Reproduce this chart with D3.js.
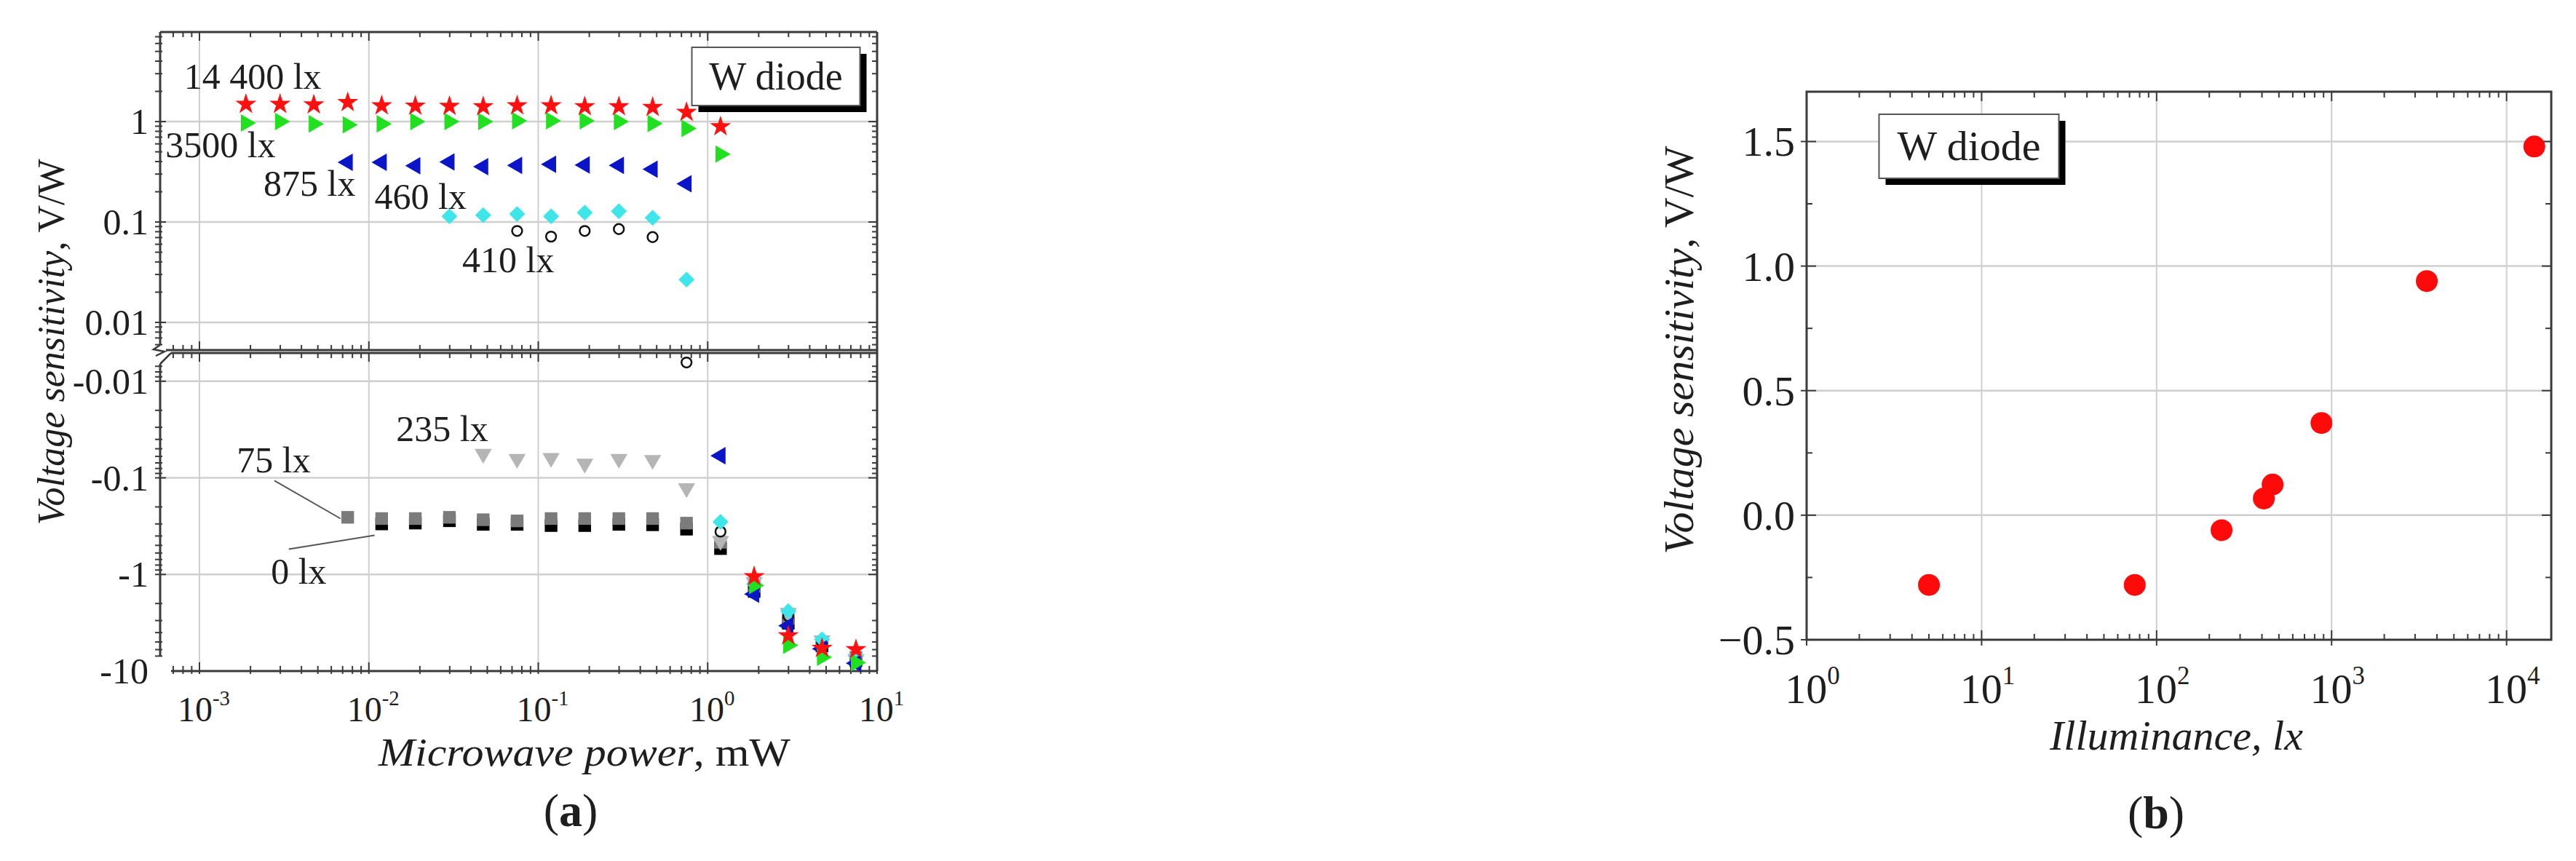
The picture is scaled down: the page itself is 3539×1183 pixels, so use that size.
<!DOCTYPE html>
<html>
<head>
<meta charset="utf-8">
<script src="https://cdn.jsdelivr.net/npm/d3@7"></script>
<style>
  body { margin: 0; background: #fff; }
  svg text { font-family: "Liberation Serif", "DejaVu Serif", serif; fill: #1e1e1e; }
</style>
</head>
<body>
<svg id="chart" width="3539" height="1183"></svg>
<script>
// ---- panel (a): voltage sensitivity (V/W) vs microwave power (mW) ----
const power = [0.00188, 0.00299, 0.00473, 0.0075, 0.0119, 0.0188, 0.0299, 0.0473, 0.075,
               0.119, 0.188, 0.299, 0.473, 0.75, 1.19, 1.88, 2.99, 4.73, 7.5];
const lux0     = [null, null, null, null, -0.30, -0.294, -0.278, -0.303, -0.303, -0.312, -0.312, -0.303, -0.306, -0.34, -0.54, -1.5, -3.2, -5.5, -7.8];
const lux75    = [null, null, null, -0.27, -0.278, -0.278, -0.27, -0.286, -0.294, -0.278, -0.278, -0.278, -0.278, -0.31, -0.49, -1.4, -3.0, -5.3, -7.6];
const lux235   = [null, null, null, null, null, null, null, -0.0565, -0.0636, -0.0623, -0.0713, -0.0636, -0.0653, -0.128, -0.45, -1.2, -2.5, -4.8, -7.5];
const lux410   = [null, null, null, null, null, null, null, null, 0.0814, 0.0715, 0.0814, 0.085, 0.0707, -0.0064, -0.36, -1.35, -2.7, -5.0, -7.2];
const lux460   = [null, null, null, null, null, null, 0.114, 0.117, 0.12, 0.114, 0.124, 0.128, 0.11, 0.0267, -0.286, -1.25, -2.4, -4.7, -7.0];
const lux875   = [null, null, null, 0.393, 0.393, 0.363, 0.397, 0.355, 0.366, 0.376, 0.37, 0.366, 0.336, 0.24, -0.059, -1.6, -3.4, -5.9, -8.3];
const lux3500  = [0.97, 1.0, 0.95, 0.93, 0.95, 1.0, 1.0, 1.0, 1.02, 1.02, 1.02, 1.0, 0.956, 0.856, 0.475, -1.3, -5.4, -7.2, -8.2];
const lux14400 = [1.49, 1.49, 1.47, 1.55, 1.44, 1.43, 1.42, 1.41, 1.44, 1.44, 1.41, 1.41, 1.39, 1.24, 0.89, -1.05, -4.3, -5.8, -6.0];
const seriesNames = ['0 lx', '75 lx', '235 lx', '410 lx', '460 lx', '875 lx', '3500 lx', '14 400 lx'];

const xTicksA = [1e-3, 1e-2, 1e-1, 1, 10];
const xExpA = ['-3', '-2', '-1', '0', '1'];
const yTicksUp = [0.01, 0.1, 1];
const yLabelsUp = ['0.01', '0.1', '1'];
const yTicksLow = [0.01, 0.1, 1, 10];
const yLabelsLow = ['-0.01', '-0.1', '-1', '-10'];

// ---- panel (b): voltage sensitivity vs illuminance ----
const illuminance = [5, 75, 235, 410, 460, 875, 3500, 14400];
const sensitivity = [-0.28, -0.28, -0.06, 0.067, 0.123, 0.37, 0.94, 1.48];
const xTicksB = [1, 10, 100, 1000, 10000];
const xExpB = ['0', '1', '2', '3', '4'];
const yTicksB = [-0.5, 0, 0.5, 1, 1.5];

const svg = d3.select('#chart');
const axisColor = '#3a3a3a';
const gridColor = '#cfcfcf';
const serif = '"Liberation Serif", "DejaVu Serif", serif';

// all 1..9 x 10^k values inside a domain, for log minor ticks
function logTicks(domain) {
  let out = [];
  let lo = Math.floor(Math.log10(domain[0])), hi = Math.ceil(Math.log10(domain[1]));
  for (let k = lo; k <= hi; k++) {
    for (let m = 1; m <= 9; m++) {
      let v = m * Math.pow(10, k);
      if (v >= domain[0] * 0.999 && v <= domain[1] * 1.001) out.push({v: v, major: m === 1});
    }
  }
  return out;
}

function line(g, x1, y1, x2, y2, color, w) {
  g.append('line').attr('x1', x1).attr('y1', y1).attr('x2', x2).attr('y2', y2)
    .attr('stroke', color).attr('stroke-width', w);
}

function txt(g, x, y, size) {
  return g.append('text').attr('x', x).attr('y', y).attr('font-family', serif).attr('font-size', size);
}

function powLabel(g, x, y, exp, size) {
  let t = txt(g, x, y, size).attr('text-anchor', 'middle');
  t.append('tspan').text('10');
  t.append('tspan').attr('dy', -size * 0.45).attr('font-size', size * 0.6).text(exp);
}

function labelBox(g, cx, cy, w, h, size) {
  g.append('rect').attr('x', cx - w / 2 + 9).attr('y', cy - h / 2 + 9).attr('width', w).attr('height', h)
    .attr('fill', '#000');
  g.append('rect').attr('x', cx - w / 2).attr('y', cy - h / 2).attr('width', w).attr('height', h)
    .attr('fill', '#fff').attr('stroke', '#555').attr('stroke-width', 2);
  txt(g, cx, cy + size * 0.33, size).attr('text-anchor', 'middle').text('W diode');
}

// ================= panel (a) =================
const gA = svg.append('g');
const xA = d3.scaleLog().domain([5.86e-4, 10]).range([220, 1205]);
const yUp = d3.scaleLog().domain([0.0053, 7.8]).range([481, 44]);
const yLow = d3.scaleLog().domain([0.0051, 10]).range([485, 922]); // magnitude of negative values

// grid
xTicksA.slice(0, 4).forEach(function (v) {
  line(gA, xA(v), 44, xA(v), 481, gridColor, 2);
  line(gA, xA(v), 485, xA(v), 922, gridColor, 2);
});
yTicksUp.forEach(function (v) { line(gA, 220, yUp(v), 1205, yUp(v), gridColor, 2.5); });
yTicksLow.slice(0, 3).forEach(function (v) { line(gA, 220, yLow(v), 1205, yLow(v), gridColor, 2.5); });

// x ticks on the four horizontal axis lines
logTicks(xA.domain()).forEach(function (t) {
  let x = xA(t.v), len = t.major ? 12 : 7;
  if (x < 236) return;
  line(gA, x, 44, x, 44 + len, axisColor, 2);
  line(gA, x, 481, x, 481 - len, axisColor, 2);
  line(gA, x, 485, x, 485 + len, axisColor, 2);
  line(gA, x, 922 - len, x, 922 + 4, axisColor, 2);
});
// y ticks, upper and lower
logTicks(yUp.domain()).forEach(function (t) {
  let y = yUp(t.v), len = t.major ? 12 : 7;
  if (y > 476) return;
  line(gA, 213, y, 220 + len - 4, y, axisColor, 2);
  line(gA, 1205 - len, y, 1205, y, axisColor, 2);
});
logTicks(yLow.domain()).forEach(function (t) {
  let y = yLow(t.v), len = t.major ? 12 : 7;
  if (y < 500 || y > 905) return;
  line(gA, 213, y, 220 + len - 4, y, axisColor, 2);
  line(gA, 1205 - len, y, 1205, y, axisColor, 2);
});

// frame with the broken y axis
line(gA, 220, 44, 1205, 44, axisColor, 3);
line(gA, 228, 481, 1205, 481, axisColor, 3);
line(gA, 235, 485, 1205, 485, axisColor, 3);
line(gA, 235, 922, 1205, 922, axisColor, 3);
line(gA, 220, 44, 220, 474, axisColor, 3);
line(gA, 220, 500, 220, 901, axisColor, 3);
line(gA, 1205, 44, 1205, 922, axisColor, 3);
line(gA, 220, 500, 235, 485, axisColor, 2.5);
gA.append('path').attr('d', 'M220,474 L211,480 L226,483 L214,489')
  .attr('fill', 'none').attr('stroke', axisColor).attr('stroke-width', 2.5);

// tick labels
yTicksUp.forEach(function (v, i) {
  txt(gA, 204, yUp(v) + 17, 50).attr('text-anchor', 'end').text(yLabelsUp[i]);
});
yTicksLow.forEach(function (v, i) {
  txt(gA, 204, yLow(v) + 17, 50).attr('text-anchor', 'end').text(yLabelsLow[i]);
});
xTicksA.forEach(function (v, i) { powLabel(gA, xA(v) + 6, 991, xExpA[i], 48); });

// axis titles
let xtA = txt(gA, 803, 1052, 54).attr('text-anchor', 'middle')
  .attr('textLength', 566).attr('lengthAdjust', 'spacingAndGlyphs');
xtA.append('tspan').attr('font-style', 'italic').text('Microwave power');
xtA.append('tspan').text(', mW');
let ytA = gA.append('text').attr('transform', 'translate(88,470) rotate(-90)').attr('text-anchor', 'middle')
  .attr('font-family', serif).attr('font-size', 52);
ytA.append('tspan').attr('font-style', 'italic').text('Voltage sensitivity');
ytA.append('tspan').text(', V/W');

// markers
const allSeries = [lux0, lux75, lux235, lux410, lux460, lux875, lux3500, lux14400];
const markerStyle = [
  {type: d3.symbolSquare, size: 300, rot: 0, fill: '#000', stroke: 'none'},
  {type: d3.symbolSquare, size: 300, rot: 0, fill: '#7b7b7b', stroke: 'none'},
  {type: d3.symbolTriangle, size: 240, rot: 180, fill: '#b5b5b5', stroke: 'none'},
  {type: d3.symbolCircle, size: 150, rot: 0, fill: 'none', stroke: '#111'},
  {type: d3.symbolSquare, size: 240, rot: 45, fill: '#3ee6ea', stroke: 'none'},
  {type: d3.symbolTriangle, size: 250, rot: -90, fill: '#0a14c8', stroke: 'none'},
  {type: d3.symbolTriangle, size: 250, rot: 90, fill: '#20e020', stroke: 'none'},
  {type: d3.symbolStar, size: 260, rot: 0, fill: '#ff1010', stroke: 'none'}
];
function yOf(v) { return v > 0 ? yUp(v) : yLow(-v); }
allSeries.forEach(function (vals, si) {
  let st = markerStyle[si];
  let pts = vals.map(function (v, i) { return {x: power[i], v: v}; }).filter(function (d) { return d.v !== null; });
  gA.append('g').selectAll('path').data(pts).enter().append('path')
    .attr('d', d3.symbol().type(st.type).size(st.size))
    .attr('transform', function (d) {
      let dy = si === 1 ? -3 : 0;
      return 'translate(' + xA(d.x) + ',' + (yOf(d.v) + dy) + ') rotate(' + st.rot + ')';
    })
    .attr('fill', st.fill).attr('stroke', st.stroke).attr('stroke-width', 2.5);
});

// series labels
const labelPos = [
  [2.64e-3, -1.25], [1.66e-3, -0.087], [0.0145, -0.0414], [0.0356, 0.0316],
  [0.0108, 0.135], [2.39e-3, 0.182], [6.3e-4, 0.44], [8.1e-4, 2.12]
];
seriesNames.forEach(function (name, i) {
  txt(gA, xA(labelPos[i][0]), yOf(labelPos[i][1]), 50).text(name);
});
// leader lines for 75 lx and 0 lx
line(gA, xA(2.77e-3), yLow(0.107), xA(6.8e-3), yLow(0.264), '#555', 2);
line(gA, xA(3.37e-3), yLow(0.546), xA(0.0108), yLow(0.393), '#555', 2);

labelBox(gA, 1066, 105, 231, 80, 54);

let capA = txt(gA, 784, 1135, 64).attr('text-anchor', 'middle');
capA.append('tspan').text('(');
capA.append('tspan').attr('font-weight', 'bold').text('a');
capA.append('tspan').text(')');

// ================= panel (b) =================
const gB = svg.append('g');
const xB = d3.scaleLog().domain([1, 1.8e4]).range([2482, 3505]);
const yB = d3.scaleLinear().domain([-0.5, 1.7]).range([879, 126]);

xTicksB.slice(1).forEach(function (v) { line(gB, xB(v), 126, xB(v), 879, gridColor, 2); });
yTicksB.slice(1).forEach(function (v) { line(gB, 2482, yB(v), 3505, yB(v), gridColor, 2.5); });

logTicks(xB.domain()).forEach(function (t) {
  let x = xB(t.v), len = t.major ? 13 : 8;
  line(gB, x, 879 - len, x, 879 + (t.major ? 8 : 0), axisColor, 2);
  line(gB, x, 126, x, 126 + len, axisColor, 2);
});
d3.range(-0.5, 1.71, 0.25).forEach(function (v) {
  let major = Math.abs(v * 2 - Math.round(v * 2)) < 1e-6, len = major ? 13 : 8;
  line(gB, 2482 - (major ? 8 : 0), yB(v), 2482 + len, yB(v), axisColor, 2);
  line(gB, 3505 - len, yB(v), 3505, yB(v), axisColor, 2);
});
gB.append('rect').attr('x', 2482).attr('y', 126).attr('width', 3505 - 2482).attr('height', 879 - 126)
  .attr('fill', 'none').attr('stroke', axisColor).attr('stroke-width', 3);

yTicksB.forEach(function (v) {
  txt(gB, 2466, yB(v) + 20, 58).attr('text-anchor', 'end').text(d3.format('.1f')(v));
});
xTicksB.forEach(function (v, i) { powLabel(gB, xB(v) + 8, 966, xExpB[i], 58); });

txt(gB, 2990, 1030, 58).attr('text-anchor', 'middle').attr('font-style', 'italic').text('Illuminance, lx');
let ytB = gB.append('text').attr('transform', 'translate(2326,481) rotate(-90)').attr('text-anchor', 'middle')
  .attr('font-family', serif).attr('font-size', 58);
ytB.append('tspan').attr('font-style', 'italic').text('Voltage sensitivity');
ytB.append('tspan').text(', V/W');

gB.append('g').selectAll('circle').data(illuminance).enter().append('circle')
  .attr('cx', function (d) { return xB(d); })
  .attr('cy', function (d, i) { return yB(sensitivity[i]); })
  .attr('r', 15).attr('fill', '#ff0a0a');

labelBox(gB, 2705, 201, 247, 88, 58);

let capB = txt(gB, 2962, 1138, 64).attr('text-anchor', 'middle');
capB.append('tspan').text('(');
capB.append('tspan').attr('font-weight', 'bold').text('b');
capB.append('tspan').text(')');
</script>
</body>
</html>
